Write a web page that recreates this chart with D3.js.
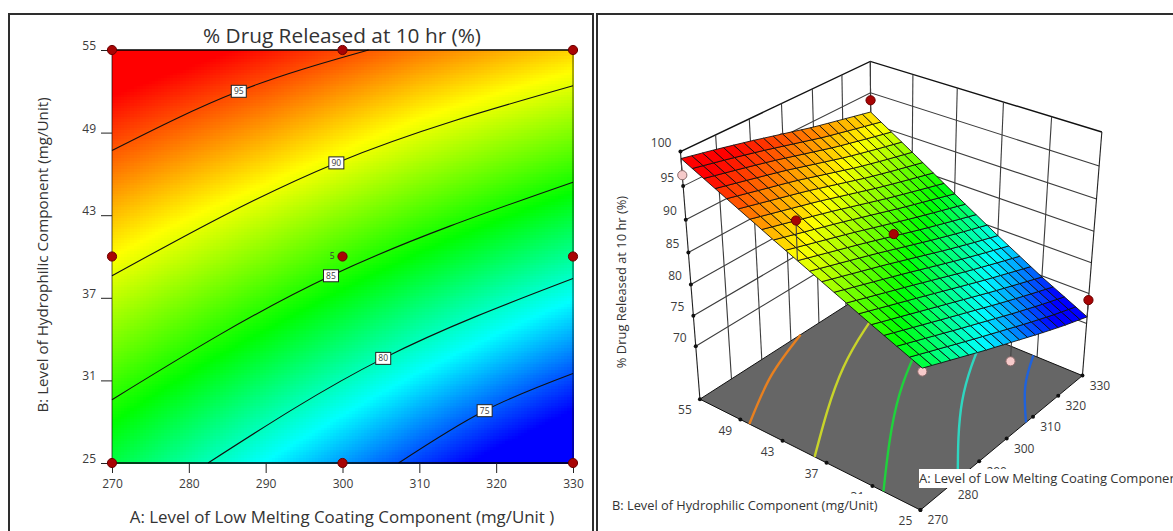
<!DOCTYPE html>
<html>
<head>
<meta charset="utf-8">
<script src="https://cdn.jsdelivr.net/npm/d3@7"></script>
<style>
  html, body { margin: 0; padding: 0; background: #fff; overflow: hidden; }
  svg { display: block; font-family: "Open Sans", sans-serif; }
</style>
</head>
<body>
<div id="svg_container"></div>
<script>
// values
var coatingLevels = [270, 280, 290, 300, 310, 320, 330];
var hydrophilicLevels = [25, 31, 37, 43, 49, 55];
var releaseAt270 = [82.9, 86.0, 89.2, 92.4, 95.7, 99.0];
var releaseAt280 = [80.8, 84.1, 87.5, 90.9, 94.4, 97.9];
var releaseAt290 = [78.7, 82.2, 85.8, 89.4, 93.1, 96.7];
var releaseAt300 = [76.7, 80.3, 84.0, 87.8, 91.6, 95.4];
var releaseAt310 = [74.7, 78.4, 82.2, 86.2, 90.1, 94.1];
var releaseAt320 = [72.8, 76.6, 80.5, 84.7, 88.8, 93.0];
var releaseAt330 = [71.1, 74.8, 78.9, 83.2, 87.6, 91.9];
var releaseGrid = [releaseAt270, releaseAt280, releaseAt290, releaseAt300, releaseAt310, releaseAt320, releaseAt330];

var contour95 = [[270, 47.7], [286.5, 52.0], [303.4, 55]];
var contour90 = [[270, 38.6], [299.2, 46.8], [330, 52.4]];
var contour85 = [[270, 29.6], [298.5, 38.6], [330, 45.4]];
var contour80 = [[282.5, 25], [305.3, 32.6], [330, 38.4]];
var contour75 = [[307.3, 25], [318.5, 28.8], [330, 31.5]];
var contourLevels = [95, 90, 85, 80, 75];
var contourLines = [contour95, contour90, contour85, contour80, contour75];
var contourLabelAt = [[286.5, 52.0], [299.2, 46.8], [298.5, 38.6], [305.3, 32.6], [318.5, 28.8]];

var designA = [270, 300, 330, 270, 300, 330, 270, 300, 330];
var designB = [25, 25, 25, 40, 40, 40, 55, 55, 55];
var designObserved = [82.4, 73.7, 73.9, 96.5, 86.2, 79.0, 96.6, 94.8, 93.8];

var xTicks = [270, 280, 290, 300, 310, 320, 330];
var yTicks = [25, 31, 37, 43, 49, 55];
var zTicks = [70, 75, 80, 85, 90, 95, 100];
var zFloor = 61;
var zTop = 100;

var titleText = "% Drug Released at 10 hr (%)";
var xTitle = "A: Level of Low Melting Coating Component (mg/Unit )";
var xTitle3d = "A: Level of Low Melting Coating Component (mg/Unit)";
var yTitle = "B: Level of Hydrophilic Component (mg/Unit)";

var width = 1173, height = 531;
var textColor = "#3c3c3c";
var dotRed = "#a80404", dotRedEdge = "#6a0000";
var dotPink = "#f6caca", dotPinkEdge = "#8a6a6a";
var floorContourColors = ["#e8801f", "#c8d42a", "#1fd23c", "#2fd6c0", "#1f62dc"];

var color = d3.scaleLinear()
        .domain([73.5, 78.8, 84.4, 90.8, 97.2])
        .range(["#0000ff", "#00ffff", "#00ff00", "#ffff00", "#ff0000"])
        .clamp(true);

// bilinear lookup in the read grid, only to paint between the read values
function release(a, b) {
    var i = Math.min(5, Math.floor((a - 270) / 10));
    var j = Math.min(4, Math.floor((b - 25) / 6));
    var s = (a - coatingLevels[i]) / 10, t = (b - hydrophilicLevels[j]) / 6;
    return (1 - s) * (1 - t) * releaseGrid[i][j] + s * (1 - t) * releaseGrid[i + 1][j]
            + (1 - s) * t * releaseGrid[i][j + 1] + s * t * releaseGrid[i + 1][j + 1];
}

var svg = d3.select("#svg_container").append("svg")
        .attr("width", width)
        .attr("height", height);

// panel frames
var frames = [[9, 593], [597, 1180]];
frames.forEach(function (f) {
    svg.append("path")
            .attr("d", "M" + f[0] + "," + (height + 5) + "V14H" + f[1] + "V" + (height + 5))
            .attr("fill", "none")
            .attr("stroke", "#2e2e2e")
            .attr("stroke-width", 2);
});

/* ---------- left panel: contour plot ---------- */
var x = d3.scaleLinear().domain([270, 330]).range([112, 573]);
var y = d3.scaleLinear().domain([25, 55]).range([463, 50]);

var cellA = d3.range(270, 330, 0.4);
var cellB = d3.range(25, 55, 0.2);
var field = svg.append("g").attr("shape-rendering", "crispEdges");
cellA.forEach(function (a) {
    field.selectAll(null)
            .data(cellB)
            .enter().append("rect")
            .attr("x", x(a))
            .attr("y", function (b) { return y(b + 0.2); })
            .attr("width", x(a + 0.4) - x(a) + 0.5)
            .attr("height", y(25) - y(25.2) + 0.5)
            .attr("fill", function (b) { return color(release(a + 0.2, b + 0.1)); });
});

var contourPath = d3.line()
        .x(function (d) { return x(d[0]); })
        .y(function (d) { return y(d[1]); })
        .curve(d3.curveNatural);

svg.append("g").selectAll("path")
        .data(contourLines)
        .enter().append("path")
        .attr("d", contourPath)
        .attr("fill", "none")
        .attr("stroke", "#111")
        .attr("stroke-width", 1.1);

// plot border
svg.append("path").attr("d", "M112,50H573M112,463H573").attr("stroke", "#000").attr("stroke-width", 1.5);
svg.append("path").attr("d", "M112,50V463M573,50V463").attr("stroke", "#000").attr("stroke-opacity", 0.55).attr("stroke-width", 1.2);

var xAxis = svg.append("g")
        .attr("transform", "translate(0,463)")
        .call(d3.axisBottom(x).tickValues(xTicks).tickSize(10).tickPadding(6).tickFormat(d3.format("d")));
var yAxis = svg.append("g")
        .attr("transform", "translate(112,0)")
        .call(d3.axisLeft(y).tickValues(yTicks).tickSize(11).tickPadding(5).tickFormat(d3.format("d")));
[xAxis, yAxis].forEach(function (ax) {
    ax.select(".domain").remove();
    ax.selectAll("line").attr("stroke", "#222");
    ax.selectAll("text").attr("fill", textColor).style("font-size", "12px").style("font-family", "'Open Sans', sans-serif");
});
yAxis.selectAll("text").attr("dy", "-0.05em");

// contour value boxes
var boxes = svg.append("g").selectAll("g")
        .data(contourLevels)
        .enter().append("g")
        .attr("transform", function (d, i) {
            return "translate(" + x(contourLabelAt[i][0]) + "," + y(contourLabelAt[i][1]) + ")";
        });
boxes.append("rect")
        .attr("x", -7.5).attr("y", -6).attr("width", 15).attr("height", 12)
        .attr("fill", "#fff").attr("stroke", "#222").attr("stroke-width", 1);
boxes.append("text")
        .attr("text-anchor", "middle").attr("dy", "0.35em")
        .attr("font-size", 8.5).attr("fill", textColor)
        .text(function (d) { return d; });

// design points
svg.append("g").selectAll("circle")
        .data(designA)
        .enter().append("circle")
        .attr("cx", function (d) { return x(d); })
        .attr("cy", function (d, i) { return y(designB[i]); })
        .attr("r", 4.6)
        .attr("fill", dotRed)
        .attr("stroke", dotRedEdge);
svg.append("text").attr("x", x(300) - 8).attr("y", y(40)).attr("dy", "0.35em")
        .attr("text-anchor", "end").attr("font-size", 8.5).attr("fill", textColor).text("5");

svg.append("text").attr("x", 342).attr("y", 43).attr("text-anchor", "middle")
        .attr("font-size", 20.8).attr("fill", "#333").text(titleText);
svg.append("text").attr("x", 342).attr("y", 523).attr("text-anchor", "middle")
        .attr("font-size", 16.9).attr("fill", "#333").text(xTitle);
svg.append("text").attr("transform", "translate(48,255)rotate(-90)").attr("text-anchor", "middle")
        .attr("font-size", 15.2).attr("fill", "#333").text(yTitle);

/* ---------- right panel: 3D surface ---------- */
// reference spots for the camera: A, B, release, screen x, screen y
var cameraRefs = [
    [270, 55, 100, 679.6, 154], [270, 55, 85, 687.4, 248.7], [270, 55, 70, 695, 343.3], [270, 55, 61, 699.7, 401],
    [330, 55, 100, 870.7, 63], [330, 25, 100, 1103, 131], [330, 25, 61, 1084.4, 373.7],
    [270, 25, 61, 922, 508], [270, 37, 61, 832.4, 465], [290, 25, 61, 975.5, 463.3],
    [300, 25, 61, 1002.7, 441], [320, 25, 61, 1057.7, 395]
];

function solve(m, v) {
    var n = v.length;
    for (var c = 0; c < n; c++) {
        var p = c;
        for (var r = c + 1; r < n; r++) if (Math.abs(m[r][c]) > Math.abs(m[p][c])) p = r;
        var tm = m[c]; m[c] = m[p]; m[p] = tm;
        var tv = v[c]; v[c] = v[p]; v[p] = tv;
        for (r = c + 1; r < n; r++) {
            var k = m[r][c] / m[c][c];
            for (var q = c; q < n; q++) m[r][q] -= k * m[c][q];
            v[r] -= k * v[c];
        }
    }
    var out = new Array(n);
    for (c = n - 1; c >= 0; c--) {
        var s = v[c];
        for (q = c + 1; q < n; q++) s -= m[c][q] * out[q];
        out[c] = s / m[c][c];
    }
    return out;
}

function unit(a, b, z) { return [(a - 300) / 30, (b - 40) / 15, (z - 80) / 20]; }

function fitCamera(refs) {
    var rows = [], rhs = [];
    refs.forEach(function (d) {
        var u = unit(d[0], d[1], d[2]), sx = d[3] / 100, sy = d[4] / 100;
        rows.push([u[0], u[1], u[2], 1, 0, 0, 0, 0, -sx * u[0], -sx * u[1], -sx * u[2]]); rhs.push(sx);
        rows.push([0, 0, 0, 0, u[0], u[1], u[2], 1, -sy * u[0], -sy * u[1], -sy * u[2]]); rhs.push(sy);
    });
    var ata = d3.range(11).map(function (i) {
        return d3.range(11).map(function (j) { return d3.sum(rows, function (r) { return r[i] * r[j]; }); });
    });
    var atb = d3.range(11).map(function (i) { return d3.sum(rows, function (r, k) { return r[i] * rhs[k]; }); });
    return solve(ata, atb);
}

var cam = fitCamera(cameraRefs);

function project(a, b, z) {
    var u = unit(a, b, z);
    var w = cam[8] * u[0] + cam[9] * u[1] + cam[10] * u[2] + 1;
    return [100 * (cam[0] * u[0] + cam[1] * u[1] + cam[2] * u[2] + cam[3]) / w,
            100 * (cam[4] * u[0] + cam[5] * u[1] + cam[6] * u[2] + cam[7]) / w];
}

var scene = svg.append("g");
var pathOf = d3.line().x(function (d) { return d[0]; }).y(function (d) { return d[1]; });

// walls
zTicks.forEach(function (z) {
    scene.append("path")
            .attr("d", pathOf([project(270, 55, z), project(330, 55, z), project(330, 25, z)]))
            .attr("fill", "none")
            .attr("stroke", z === zTop ? "#111" : "#3c3c3c")
            .attr("stroke-width", z === zTop ? 1.4 : 1.1);
});
xTicks.forEach(function (a) {
    scene.append("path")
            .attr("d", pathOf([project(a, 55, zFloor), project(a, 55, zTop)]))
            .attr("stroke", a === 270 ? "#222" : "#3c3c3c").attr("stroke-width", 1.1);
});
yTicks.forEach(function (b) {
    scene.append("path")
            .attr("d", pathOf([project(330, b, zFloor), project(330, b, zTop)]))
            .attr("stroke", b === 25 ? "#222" : "#3c3c3c").attr("stroke-width", 1.1);
});

// floor
scene.append("path")
        .attr("d", pathOf([project(270, 55, zFloor), project(330, 55, zFloor), project(330, 25, zFloor), project(270, 25, zFloor)]) + "Z")
        .attr("fill", "#666")
        .attr("stroke", "#111")
        .attr("stroke-width", 1);

contourLines.forEach(function (line, i) {
    scene.append("path")
            .attr("d", d3.line().curve(d3.curveNatural)
                    .x(function (d) { return project(d[0], d[1], zFloor)[0]; })
                    .y(function (d) { return project(d[0], d[1], zFloor)[1]; })(line))
            .attr("fill", "none")
            .attr("stroke", floorContourColors[i])
            .attr("stroke-width", 2.4);
});

// tick dots and labels
function tickDots(list, at) {
    scene.append("g").selectAll("circle").data(list).enter().append("circle")
            .attr("cx", function (d) { return at(d)[0]; })
            .attr("cy", function (d) { return at(d)[1]; })
            .attr("r", 2).attr("fill", "#111");
}
function tickLabels(list, at, dx, dy, anchor) {
    scene.append("g").selectAll("text").data(list).enter().append("text")
            .attr("x", function (d) { return at(d)[0] + dx; })
            .attr("y", function (d) { return at(d)[1] + dy; })
            .attr("dy", "0.35em")
            .attr("text-anchor", anchor)
            .attr("font-size", 12)
            .attr("fill", textColor)
            .text(function (d) { return d; });
}
var atZ = function (z) { return project(270, 55, z); };
var atB = function (b) { return project(270, b, zFloor); };
var atA = function (a) { return project(a, 25, zFloor); };
tickDots(zTicks, atZ);
tickDots(yTicks, atB);
tickDots(xTicks, atA);
tickLabels(zTicks, atZ, -9, -8.5, "end");
tickLabels(yTicks, atB, -15, 11, "middle");
tickLabels(xTicks, atA, 17.5, 10, "middle");

function stemAndDot(layer, i) {
    var a = designA[i], b = designB[i], obs = designObserved[i];
    var p = project(a, b, obs), q = project(a, b, release(a, b));
    layer.append("path").attr("d", pathOf([p, q])).attr("stroke", "#444").attr("stroke-width", 1.1);
    layer.append("circle").attr("cx", p[0]).attr("cy", p[1]).attr("r", 4.6)
            .attr("fill", obs >= release(a, b) ? dotRed : dotPink)
            .attr("stroke", obs >= release(a, b) ? dotRedEdge : dotPinkEdge);
}

// points under the sheet go first so it hides them
designA.forEach(function (a, i) {
    if (designObserved[i] < release(a, designB[i])) stemAndDot(scene, i);
});

var meshA = d3.range(0, 21).map(function (i) { return 270 + i * 3; });
var meshB = d3.range(0, 21).map(function (i) { return 25 + i * 1.5; });
var quads = [];
meshA.slice(0, -1).forEach(function (a) {
    meshB.slice(0, -1).forEach(function (b) { quads.push([a, b]); });
});
scene.append("g").selectAll("path")
        .data(quads)
        .enter().append("path")
        .attr("d", function (d) {
            var a = d[0], b = d[1];
            return pathOf([[a, b], [a + 3, b], [a + 3, b + 1.5], [a, b + 1.5]].map(function (c) {
                return project(c[0], c[1], release(c[0], c[1]));
            })) + "Z";
        })
        .attr("fill", function (d) { return color(release(d[0] + 1.5, d[1] + 0.75)); })
        .attr("stroke", "#0c0c0c")
        .attr("stroke-opacity", 0.85)
        .attr("stroke-width", 1);

designA.forEach(function (a, i) {
    if (designObserved[i] >= release(a, designB[i])) stemAndDot(scene, i);
});

scene.append("text").attr("transform", "translate(626,282)rotate(-90)").attr("text-anchor", "middle")
        .attr("font-size", 12.9).attr("fill", "#333").text(titleText);

// axis titles sit in white boxes over the scene
svg.append("rect").attr("x", 919).attr("y", 469).attr("width", 260).attr("height", 19).attr("fill", "#fff");
svg.append("text").attr("x", 919).attr("y", 483).attr("font-size", 13).attr("fill", "#333").text(xTitle3d);
svg.append("rect").attr("x", 610).attr("y", 494).attr("width", 268).attr("height", 24).attr("fill", "#fff");
svg.append("text").attr("x", 612).attr("y", 510).attr("font-size", 12.8).attr("fill", "#333").text(yTitle);
</script>
</body>
</html>
